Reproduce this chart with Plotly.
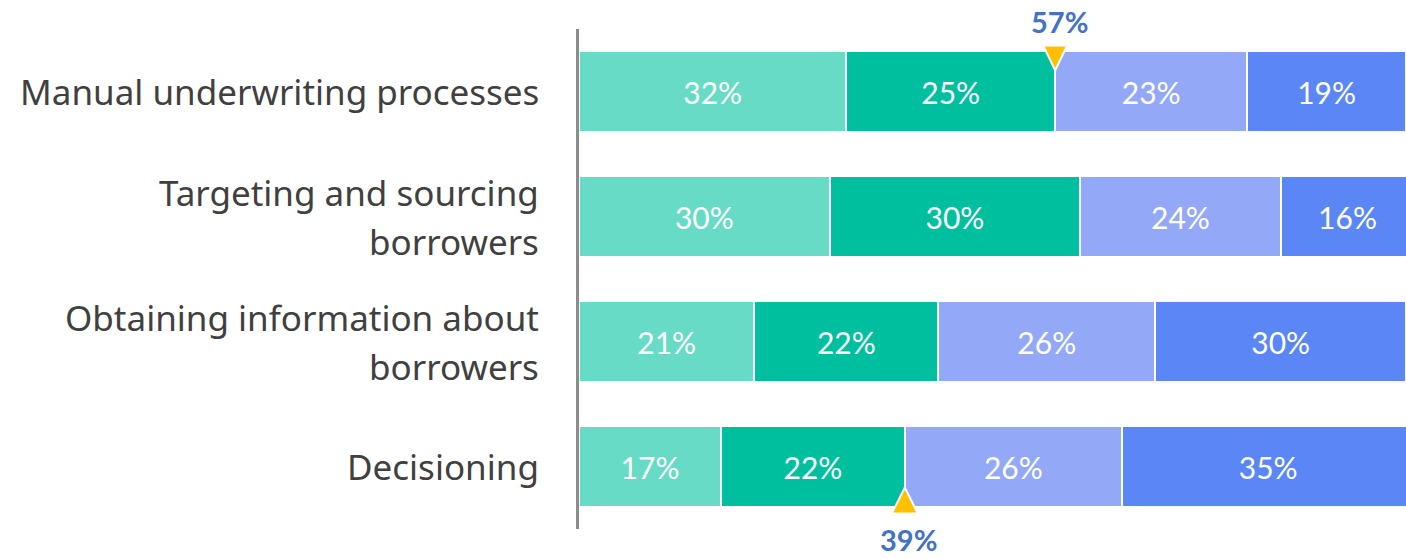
import plotly.graph_objects as go

# Survey areas (top to bottom) and the share of responses in each band
categories = [
    "Manual underwriting processes",
    "Targeting and sourcing borrowers",
    "Obtaining information about borrowers",
    "Decisioning",
]
label_lines = [
    ["Manual underwriting processes"],
    ["Targeting and sourcing", "borrowers"],
    ["Obtaining information about", "borrowers"],
    ["Decisioning"],
]
band_1 = [32, 30, 21, 17]
band_2 = [25, 30, 22, 22]
band_3 = [23, 24, 26, 26]
band_4 = [19, 16, 30, 35]

bands = [band_1, band_2, band_3, band_4]
band_names = ["Band 1", "Band 2", "Band 3", "Band 4"]
band_colors = ["#68DBC6", "#00BF9F", "#93A9F8", "#5B86F5"]

# Combined share of the first two bands, called out for two of the rows
callout_rows = [0, 3]
callout_sides = ["top", "bottom"]

FONT = "Lato"
LABEL_FONT = "Noto Sans"
ypos = list(range(len(categories)))

fig = go.Figure()
for vals, name, color in zip(bands, band_names, band_colors):
    fig.add_trace(go.Bar(
        x=vals, y=ypos, orientation="h", name=name,
        marker=dict(color=color, line=dict(color="white", width=2)),
        text=[f"{v}%" for v in vals],
        textposition="inside", insidetextanchor="middle",
        textfont=dict(family=FONT, size=30, color="white"),
        constraintext="none",
        hoverinfo="skip",
    ))

# Category labels, right aligned against the axis line
line_gap = 49
for i, lines in enumerate(label_lines):
    n = len(lines)
    for k, line in enumerate(lines):
        shift = ((n - 1) / 2 - k) * line_gap
        fig.add_annotation(
            x=0, xref="paper", y=i, yref="y", text=line, showarrow=False,
            xanchor="right", yanchor="middle", xshift=-38, yshift=shift,
            font=dict(family=LABEL_FONT, size=35, color="#404040"),
        )

# Cumulative callouts: triangle marker at the band 2 / band 3 boundary
for row, side in zip(callout_rows, callout_sides):
    total = band_1[row] + band_2[row]
    if side == "top":
        path = "M -12,46 L 12,46 L 0,21 Z"
        text_shift = 70
    else:
        path = "M -13,-47 L 13,-47 L 0,-21 Z"
        text_shift = -73
    fig.add_shape(
        type="path", xref="x", yref="y",
        xsizemode="pixel", ysizemode="pixel",
        xanchor=total, yanchor=row, path=path,
        fillcolor="#FFC000", line=dict(color="white", width=2),
        layer="above",
    )
    fig.add_annotation(
        x=total, y=row, xref="x", yref="y", text=f"<b>{total}%</b>",
        showarrow=False, xanchor="center", yanchor="middle",
        xshift=4, yshift=text_shift,
        font=dict(family=FONT, size=29, color="#4472C4"),
    )

fig.update_layout(
    barmode="stack",
    bargap=0.35,
    width=1406, height=559,
    margin=dict(l=579, r=0, t=29, b=30),
    paper_bgcolor="white", plot_bgcolor="white",
    showlegend=False,
    font=dict(family=FONT),
)
fig.update_xaxes(range=[0, 99], visible=False, fixedrange=True)
fig.update_yaxes(
    range=[3.5, -0.5], showticklabels=False, showgrid=False, zeroline=False,
    showline=True, linecolor="#8C8C8C", linewidth=3, fixedrange=True,
)

fig.write_html("out.html")
